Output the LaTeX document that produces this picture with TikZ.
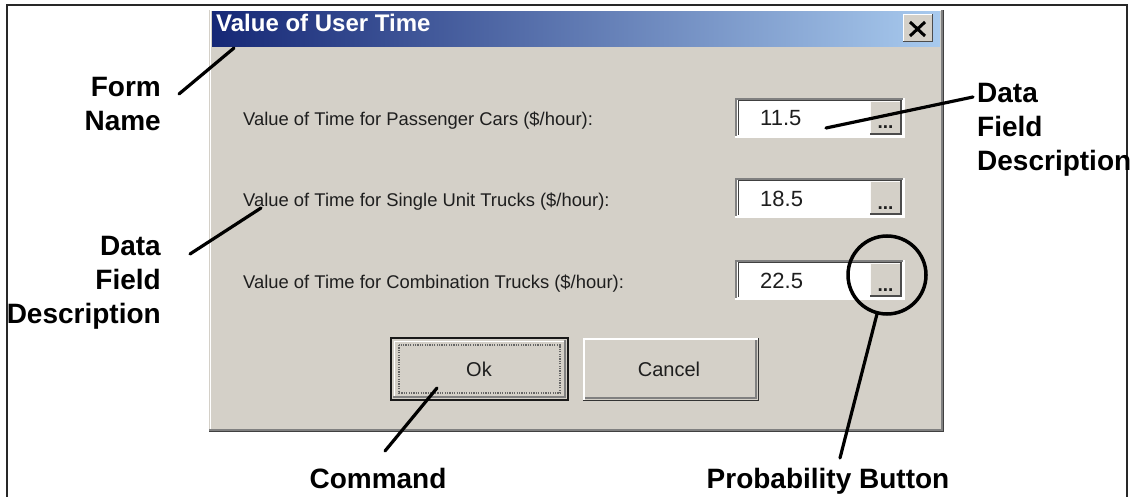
\documentclass[tikz,border=0pt]{standalone}
\usepackage{fontspec}
\setmainfont{Liberation Sans}
\definecolor{wingray}{RGB}{212,208,200}
\definecolor{winshadow}{RGB}{128,128,128}
\definecolor{titledark}{RGB}{22,40,118}
\definecolor{titlelight}{RGB}{168,202,238}
\definecolor{frameline}{RGB}{40,40,40}
\definecolor{uitext}{RGB}{30,30,30}
\begin{document}
\begin{tikzpicture}[x=1pt,y=-1pt,
  callout/.style={line width=3.2pt,line cap=round,black},
  lbl/.style={font=\fontsize{28}{34}\selectfont\bfseries,inner sep=0pt,text depth=0pt},
  uilabel/.style={font=\fontsize{18.4}{22}\selectfont,text=uitext,inner sep=0pt,anchor=base west},
  valtext/.style={font=\fontsize{22}{26}\selectfont,text=uitext,inner sep=0pt,anchor=base west},
  btntext/.style={font=\fontsize{20}{24}\selectfont,text=uitext,inner sep=0pt},
  ellipsis/.style={font=\fontsize{19}{22}\selectfont\bfseries,text=uitext,inner sep=0pt,anchor=base}]
\useasboundingbox (0,0) rectangle (1134,497);
\fill[white] (0,0) rectangle (1134,497);

% outer frame
\draw[line width=1.5pt,frameline] (7,497) -- (7,5) -- (1127,5) -- (1127,497);

% dialog window with raised border
\fill[wingray] (209,10) rectangle (943,431);
\draw[line width=1pt,white] (210,430) -- (210,11) -- (942,11);
\draw[line width=1.5pt,winshadow] (209,430) -- (942,430) -- (942,10);
\draw[line width=1pt,black!75] (209,431.5) -- (943.5,431.5) -- (943.5,10);

% title bar
\shade[left color=titledark,right color=titlelight] (212,12) rectangle (940,47);
\node[font=\fontsize{24}{27}\selectfont\bfseries,text=white,inner sep=0pt,anchor=base west]
  (title) at (216,32) {Value of User Time};

% close button
\fill[wingray] (903,14) rectangle (933,42);
\draw[line width=1pt,white] (903.5,42) -- (903.5,14.5) -- (933,14.5);
\draw[line width=1.5pt,black!70] (903,41.5) -- (932.5,41.5) -- (932.5,14);
\draw[line width=3pt] (910,22) -- (925,36) (925,22) -- (910,36);
\coordinate (closebtn) at (918,28);

% data entry rows
\foreach \i/\t/\v/\txt in {
  1/98/11.5/{Value of Time for Passenger Cars (\$/hour):},
  2/178/18.5/{Value of Time for Single Unit Trucks (\$/hour):},
  3/260/22.5/{Value of Time for Combination Trucks (\$/hour):}}{
  \node[uilabel] (row\i) at (243,\t+28) {\txt};
  % sunken text box
  \fill[white] (735,\t) rectangle (904,\t+39);
  \draw[line width=1.2pt,white] (735,\t+39) -- (904,\t+39) -- (904,\t);
  \draw[line width=2pt,winshadow] (736,\t+38) -- (736,\t+1) -- (903,\t+1);
  \draw[line width=1pt,black!75] (738,\t+37) -- (738,\t+2.5) -- (902,\t+2.5);
  \node[valtext] (val\i) at (760,\t+28) {\v};
  % ellipsis button
  \fill[wingray] (870,\t+3) rectangle (902,\t+37);
  \draw[line width=1pt,white!90!wingray] (870.5,\t+37) -- (870.5,\t+3.5) -- (902,\t+3.5);
  \draw[line width=2pt,black!70] (870,\t+36) -- (901,\t+36) -- (901,\t+3);
  \node[ellipsis] (dots\i) at (885.5,\t+31) {...};
}

% Ok button (default, with focus rectangle)
\fill[wingray] (391,338) rectangle (568,400);
\draw[line width=1pt,white] (394,397) -- (394,341) -- (565,341);
\draw[line width=1.5pt,winshadow] (393,397) -- (565,397) -- (565,340);
\draw[line width=2.2pt,black!90] (391,338) rectangle (568,400);
\draw[line width=1.2pt,black!60,dash pattern=on 1.2pt off 1.2pt] (399,345) rectangle (560,393);
\node[btntext] (ok) at (479,369) {Ok};

% Cancel button
\fill[wingray] (583,338) rectangle (758,400);
\draw[line width=1.5pt,white] (584,400) -- (584,339) -- (758,339);
\draw[line width=1.5pt,winshadow] (585,398) -- (756,398) -- (756,340);
\draw[line width=1pt,black!80] (583,400.5) -- (758.5,400.5) -- (758.5,338);
\node[btntext] (cancel) at (669,369) {Cancel};

% callout labels
\node[lbl,align=right,anchor=east] (formname) at (161,104) {Form\\Name};
\node[lbl,align=right,anchor=east] (dfdleft) at (161,280) {Data\\Field\\Description};
\node[lbl,align=left,anchor=west] (dfdright) at (977,127) {Data\\Field\\Description};
\node[lbl,anchor=center] (command) at (378,478) {Command};
\node[lbl,anchor=center] (probbtn) at (828,478) {Probability Button};

% highlight ring round the third ellipsis button
\node[circle,draw,line width=3.5pt,minimum size=78pt,inner sep=0pt] (ring) at (887,275) {};

% callout line ends
\coordinate (fnA) at (179,94);
\coordinate (fnB) at (234,48);
\coordinate (dlA) at (190,254);
\coordinate (dlB) at (261,208);
\coordinate (drA) at (973,97);
\coordinate (drB) at (826,128);
\coordinate (cmA) at (385,451);
\coordinate (cmB) at (437,388);
\coordinate (pbA) at (840,458);

% callout lines
\draw[callout] (fnA) -- (fnB);
\draw[callout] (dlA) -- (dlB);
\draw[callout] (drA) -- (drB);
\draw[callout] (cmA) -- (cmB);
\draw[callout] (pbA) -- (ring);
\end{tikzpicture}
\end{document}
